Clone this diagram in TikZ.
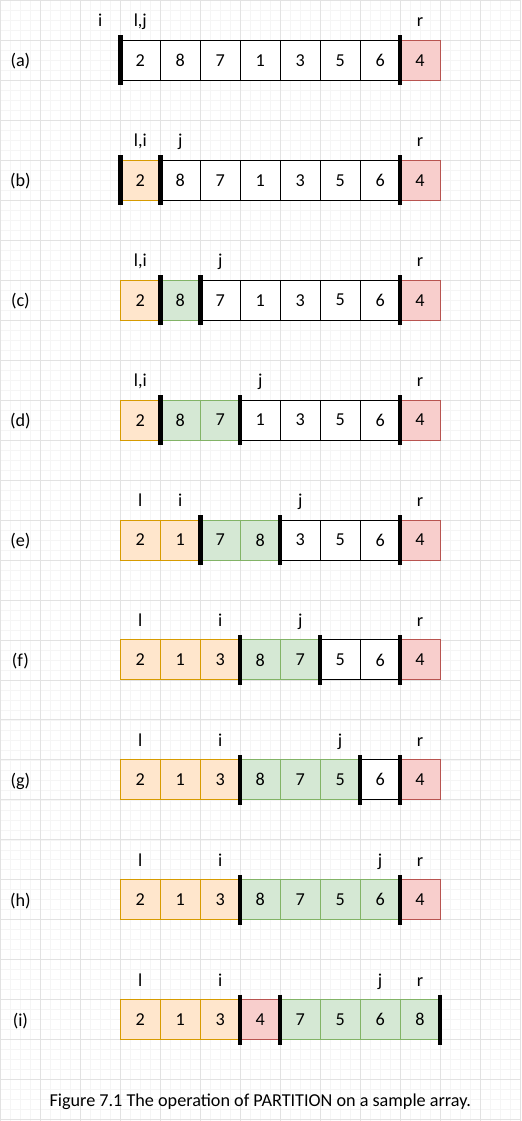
\documentclass[tikz,border=0pt]{standalone}
\usepackage{fontspec}
\setmainfont{Carlito}
\usetikzlibrary{positioning}

\definecolor{lowfill}{HTML}{FFE6CC}
\definecolor{lowline}{HTML}{D79B00}
\definecolor{highfill}{HTML}{D5E8D4}
\definecolor{highline}{HTML}{82B366}
\definecolor{pivfill}{HTML}{F8CECC}
\definecolor{pivline}{HTML}{B85450}
\definecolor{gridmajor}{HTML}{E2E2E2}
\definecolor{gridminor}{HTML}{F5F5F5}
\newcommand{\txt}{\fontsize{18.2}{21}\selectfont}

\begin{document}
\begin{tikzpicture}[
  x=1pt, y=-1pt,
  cell/.style={rectangle,draw,minimum width=40pt,minimum height=40pt,
    inner sep=0pt,outer sep=0pt,line width=1pt,font=\txt},
  wht/.style={fill=white,draw=black},
  low/.style={fill=lowfill,draw=lowline},
  high/.style={fill=highfill,draw=highline},
  piv/.style={fill=pivfill,draw=pivline},
  ptr/.style={font=\txt,inner sep=0pt,anchor=base},
  rowlbl/.style={font=\txt,inner sep=0pt,anchor=base},
  divider/.style={line width=4.5pt}
]

% --- Background grid ---
\fill[white] (0,0) rectangle (521,1121);
\draw[gridminor,line width=0.6pt,step=10pt] (0pt,0pt) grid (521pt,-1121pt);
\draw[gridmajor,line width=0.8pt,step=40pt] (0pt,0pt) grid (521pt,-1121pt);
\useasboundingbox (0,0) rectangle (521,1121);

% --- (a) ---
\node[rowlbl] (la) at (20,66.5) {(a)};
\foreach \v/\s [count=\k from 0] in {2/wht,8/wht,7/wht,1/wht,3/wht,5/wht,6/wht,4/piv}
  \node[cell,\s] (a\k) at (140+40*\k,60) {\v};
\node[ptr] (a-i) at (100,26.5) {i};
\node[ptr] (a-lj) at ([yshift=13.5pt]a0.north) {l,j};
\node[ptr] (a-r) at ([yshift=13.5pt]a7.north) {r};
\foreach \n in {a0,a7}
  \draw[divider] ([yshift=5pt]\n.north west) -- ([yshift=-5pt]\n.south west);

% --- (b) ---
\node[rowlbl] (lb) at (20,186.5) {(b)};
\foreach \v/\s [count=\k from 0] in {2/low,8/wht,7/wht,1/wht,3/wht,5/wht,6/wht,4/piv}
  \node[cell,\s] (b\k) at (140+40*\k,180) {\v};
\node[ptr] (b-li) at ([yshift=13.5pt]b0.north) {l,i};
\node[ptr] (b-j) at ([yshift=13.5pt]b1.north) {j};
\node[ptr] (b-r) at ([yshift=13.5pt]b7.north) {r};
\foreach \n in {b0,b1,b7}
  \draw[divider] ([yshift=5pt]\n.north west) -- ([yshift=-5pt]\n.south west);

% --- (c) ---
\node[rowlbl] (lc) at (20,306.5) {(c)};
\foreach \v/\s [count=\k from 0] in {2/low,8/high,7/wht,1/wht,3/wht,5/wht,6/wht,4/piv}
  \node[cell,\s] (c\k) at (140+40*\k,300) {\v};
\node[ptr] (c-li) at ([yshift=13.5pt]c0.north) {l,i};
\node[ptr] (c-j) at ([yshift=13.5pt]c2.north) {j};
\node[ptr] (c-r) at ([yshift=13.5pt]c7.north) {r};
\foreach \n in {c1,c2,c7}
  \draw[divider] ([yshift=5pt]\n.north west) -- ([yshift=-5pt]\n.south west);

% --- (d) ---
\node[rowlbl] (ld) at (20,426.5) {(d)};
\foreach \v/\s [count=\k from 0] in {2/low,8/high,7/high,1/wht,3/wht,5/wht,6/wht,4/piv}
  \node[cell,\s] (d\k) at (140+40*\k,420) {\v};
\node[ptr] (d-li) at ([yshift=13.5pt]d0.north) {l,i};
\node[ptr] (d-j) at ([yshift=13.5pt]d3.north) {j};
\node[ptr] (d-r) at ([yshift=13.5pt]d7.north) {r};
\foreach \n in {d1,d3,d7}
  \draw[divider] ([yshift=5pt]\n.north west) -- ([yshift=-5pt]\n.south west);

% --- (e) ---
\node[rowlbl] (le) at (20,546.5) {(e)};
\foreach \v/\s [count=\k from 0] in {2/low,1/low,7/high,8/high,3/wht,5/wht,6/wht,4/piv}
  \node[cell,\s] (e\k) at (140+40*\k,540) {\v};
\node[ptr] (e-l) at ([yshift=13.5pt]e0.north) {l};
\node[ptr] (e-i) at ([yshift=13.5pt]e1.north) {i};
\node[ptr] (e-j) at ([yshift=13.5pt]e4.north) {j};
\node[ptr] (e-r) at ([yshift=13.5pt]e7.north) {r};
\foreach \n in {e2,e4,e7}
  \draw[divider] ([yshift=5pt]\n.north west) -- ([yshift=-5pt]\n.south west);

% --- (f) ---
\node[rowlbl] (lf) at (20,666.5) {(f)};
\foreach \v/\s [count=\k from 0] in {2/low,1/low,3/low,8/high,7/high,5/wht,6/wht,4/piv}
  \node[cell,\s] (f\k) at (140+40*\k,660) {\v};
\node[ptr] (f-l) at ([yshift=13.5pt]f0.north) {l};
\node[ptr] (f-i) at ([yshift=13.5pt]f2.north) {i};
\node[ptr] (f-j) at ([yshift=13.5pt]f4.north) {j};
\node[ptr] (f-r) at ([yshift=13.5pt]f7.north) {r};
\foreach \n in {f3,f5,f7}
  \draw[divider] ([yshift=5pt]\n.north west) -- ([yshift=-5pt]\n.south west);

% --- (g) ---
\node[rowlbl] (lg) at (20,786.5) {(g)};
\foreach \v/\s [count=\k from 0] in {2/low,1/low,3/low,8/high,7/high,5/high,6/wht,4/piv}
  \node[cell,\s] (g\k) at (140+40*\k,780) {\v};
\node[ptr] (g-l) at ([yshift=13.5pt]g0.north) {l};
\node[ptr] (g-i) at ([yshift=13.5pt]g2.north) {i};
\node[ptr] (g-j) at ([yshift=13.5pt]g5.north) {j};
\node[ptr] (g-r) at ([yshift=13.5pt]g7.north) {r};
\foreach \n in {g3,g6,g7}
  \draw[divider] ([yshift=5pt]\n.north west) -- ([yshift=-5pt]\n.south west);

% --- (h) ---
\node[rowlbl] (lh) at (20,906.5) {(h)};
\foreach \v/\s [count=\k from 0] in {2/low,1/low,3/low,8/high,7/high,5/high,6/high,4/piv}
  \node[cell,\s] (h\k) at (140+40*\k,900) {\v};
\node[ptr] (h-l) at ([yshift=13.5pt]h0.north) {l};
\node[ptr] (h-i) at ([yshift=13.5pt]h2.north) {i};
\node[ptr] (h-j) at ([yshift=13.5pt]h6.north) {j};
\node[ptr] (h-r) at ([yshift=13.5pt]h7.north) {r};
\foreach \n in {h3,h7}
  \draw[divider] ([yshift=5pt]\n.north west) -- ([yshift=-5pt]\n.south west);

% --- (i) ---
\node[rowlbl] (li) at (20,1026.5) {(i)};
\foreach \v/\s [count=\k from 0] in {2/low,1/low,3/low,4/piv,7/high,5/high,6/high,8/high}
  \node[cell,\s] (i\k) at (140+40*\k,1020) {\v};
\node[ptr] (i-l) at ([yshift=13.5pt]i0.north) {l};
\node[ptr] (i-i) at ([yshift=13.5pt]i2.north) {i};
\node[ptr] (i-j) at ([yshift=13.5pt]i6.north) {j};
\node[ptr] (i-r) at ([yshift=13.5pt]i7.north) {r};
\foreach \n in {i3,i4}
  \draw[divider] ([yshift=5pt]\n.north west) -- ([yshift=-5pt]\n.south west);
\draw[divider] ([yshift=5pt]i7.north east) -- ([yshift=-5pt]i7.south east);

% --- Caption ---
\node[font=\txt,inner sep=0pt,anchor=base] (cap) at (260,1107)
  {Figure 7.1 The operation of PARTITION on a sample array.};

\end{tikzpicture}
\end{document}
